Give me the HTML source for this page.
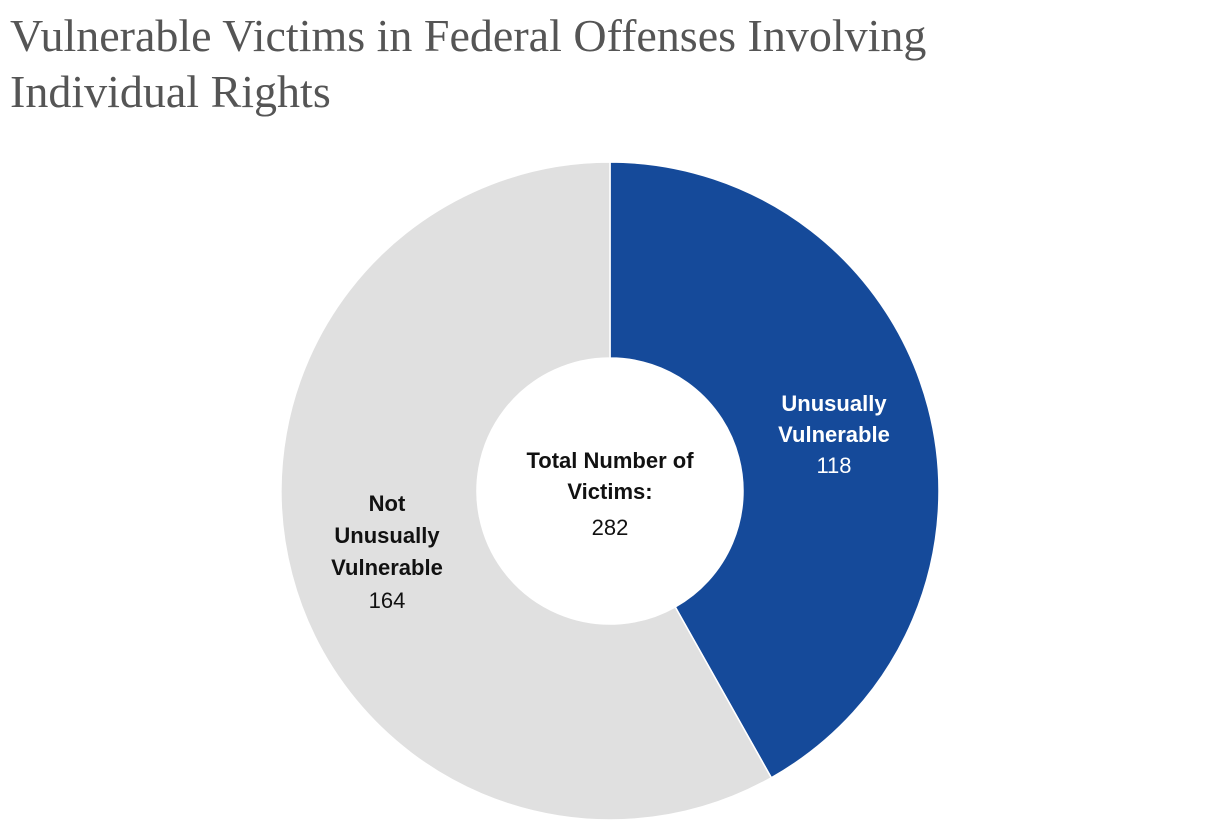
<!DOCTYPE html>
<html><head><meta charset="utf-8"><style>
body{margin:0;background:#fff;width:1220px;height:832px;overflow:hidden;font-family:"Liberation Sans",sans-serif}
#title{position:absolute;left:10px;top:8px;font-family:"Liberation Serif",serif;font-size:46px;line-height:56px;color:#555;margin:0;font-weight:normal}
</style></head><body>
<h1 id="title">Vulnerable Victims in Federal Offenses Involving<br>Individual Rights</h1>
<svg id="chart" width="1220" height="832" style="position:absolute;left:0;top:0"></svg>
<script>
const categories=["Unusually Vulnerable","Not Unusually Vulnerable"];
const values=[118,164];
const colors=["#154a9a","#e0e0e0"];
const svg=document.getElementById('chart');
const NS="http://www.w3.org/2000/svg";
const cx=610,cy=491,R=329,r=133;
const total=values.reduce((a,b)=>a+b,0);
function pt(a,rad){return [cx+rad*Math.sin(a),cy-rad*Math.cos(a)];}
let a0=0;
values.forEach((v,i)=>{
  const a1=a0+v/total*2*Math.PI;
  const large=(a1-a0)>Math.PI?1:0;
  const [x0,y0]=pt(a0,R),[x1,y1]=pt(a1,R),[x2,y2]=pt(a1,r),[x3,y3]=pt(a0,r);
  const p=document.createElementNS(NS,'path');
  p.setAttribute('d',`M${x0},${y0}A${R},${R} 0 ${large} 1 ${x1},${y1}L${x2},${y2}A${r},${r} 0 ${large} 0 ${x3},${y3}Z`);
  p.setAttribute('fill',colors[i]);p.setAttribute('stroke','#fff');p.setAttribute('stroke-width','1.5');
  
  
  svg.appendChild(p);
  a0=a1;
});
function txt(x,y,s,bold,fill,name){
  const t=document.createElementNS(NS,'text');
  t.setAttribute('x',x);t.setAttribute('y',y);t.setAttribute('text-anchor','middle');
  t.setAttribute('font-size','22');t.setAttribute('font-family','Liberation Sans, sans-serif');
  if(bold)t.setAttribute('font-weight','bold');t.setAttribute('fill',fill);t.textContent=s;
  
  
  svg.appendChild(t);
}
txt(834,411,"Unusually",true,"#fff","label-unusually-vulnerable");
txt(834,442,"Vulnerable",true,"#fff","label-unusually-vulnerable-2");
txt(834,473,String(values[0]),false,"#fff","value-unusually-vulnerable");
txt(387,511,"Not",true,"#111","label-not-unusually-vulnerable");
txt(387,543,"Unusually",true,"#111","label-not-unusually-vulnerable-2");
txt(387,575,"Vulnerable",true,"#111","label-not-unusually-vulnerable-3");
txt(387,608,String(values[1]),false,"#111","value-not-unusually-vulnerable");
txt(610,468,"Total Number of",true,"#111","center-label");
txt(610,499,"Victims:",true,"#111","center-label-2");
txt(610,535,String(total),false,"#111","center-total");
</script>
</body></html>
